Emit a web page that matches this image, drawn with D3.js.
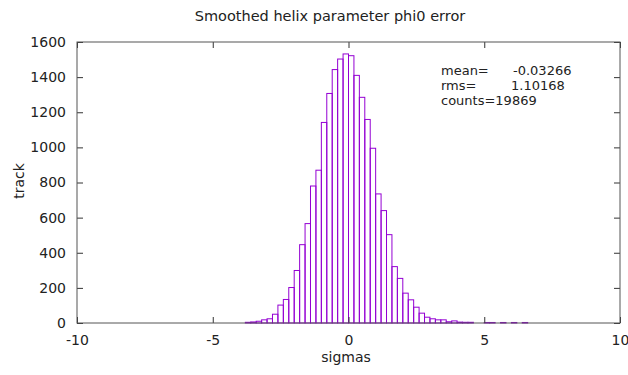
<!DOCTYPE html>
<html>
<head>
<meta charset="utf-8">
<script src="https://cdn.jsdelivr.net/npm/d3@7"></script>
<style>
  body { margin: 0; background: #fff; }
  svg text { font-family: "DejaVu Sans", Verdana, sans-serif; fill: #222; }
</style>
</head>
<body>
<svg id="chart" width="628" height="375"></svg>
<script>
// histogram of phi0 pull, bins of 0.2 sigma starting at -3.8
var binStart = -3.8;
var binWidth = 0.2;
var counts = [4, 6, 10, 18, 24, 50, 102, 134, 202, 299,
    446, 566, 780, 870, 1142, 1307, 1443, 1503, 1532, 1522,
    1410, 1285, 1159, 995, 735, 640, 503, 321, 254, 170,
    132, 90, 56, 33, 24, 18, 18, 7, 12, 5,
    4, 4, 0, 0, 3, 3, 0, 3, 0, 3,
    0, 3];

var xTicks = [-10, -5, 0, 5, 10];
var yTicks = [0, 200, 400, 600, 800, 1000, 1200, 1400, 1600];

var statLabels = ["mean=", "rms=", "counts="];
var statValues = ["-0.03266", "1.10168", "19869"];

var svg = d3.select("#chart");
var margin = {top: 42, right: 8, bottom: 52, left: 77};
var width = +svg.attr("width") - margin.left - margin.right;
var height = +svg.attr("height") - margin.top - margin.bottom;
var g = svg.append("g").attr("transform", "translate(" + margin.left + "," + margin.top + ")");

var x = d3.scaleLinear().domain([-10, 10]).range([0, width]);
var y = d3.scaleLinear().domain([0, 1600]).range([height, 0]);

var data = counts.map(function (c, i) {
    return {x0: binStart + i * binWidth, x1: binStart + (i + 1) * binWidth, n: c};
}).filter(function (d) {
    return d.n > 0;
});

// boxes
g.selectAll(".box")
    .data(data)
    .enter().append("rect")
    .attr("class", "box")
    .attr("x", function (d) { return x(d.x0); })
    .attr("y", function (d) { return y(d.n); })
    .attr("width", function (d) { return x(d.x1) - x(d.x0); })
    .attr("height", function (d) { return height - y(d.n); })
    .attr("fill", "none")
    .attr("stroke", "#9400d3")
    .attr("stroke-width", 1);

// axes, ticks pointing inward, mirrored
var plain = function (d) { return String(d); };
var tickCol = "#333";
var xb = g.append("g").attr("transform", "translate(0," + height + ")")
    .call(d3.axisBottom(x).tickValues(xTicks).tickSizeInner(-6).tickSizeOuter(0).tickPadding(12).tickFormat(plain));
var xt = g.append("g")
    .call(d3.axisTop(x).tickValues(xTicks).tickSizeInner(-6).tickSizeOuter(0).tickFormat(""));
var yl = g.append("g")
    .call(d3.axisLeft(y).tickValues(yTicks).tickSizeInner(-6).tickSizeOuter(0).tickPadding(11).tickFormat(plain));
var yr = g.append("g").attr("transform", "translate(" + width + ",0)")
    .call(d3.axisRight(y).tickValues(yTicks).tickSizeInner(-6).tickSizeOuter(0).tickFormat(""));

[xb, xt, yl, yr].forEach(function (a) {
    a.select(".domain").remove();
    a.selectAll(".tick line").attr("stroke", tickCol);
    a.selectAll("text").style("font-size", "14px").attr("fill", "#222");
});

g.append("rect")
    .attr("x", 0).attr("y", 0)
    .attr("width", width).attr("height", height)
    .attr("fill", "none")
    .attr("stroke", "#555")
    .attr("stroke-width", 1);

// stats box
var st = g.append("g").attr("transform", "translate(" + (441 - margin.left) + "," + (75 - margin.top) + ")");
statLabels.forEach(function (lab, i) {
    var t = st.append("text").attr("y", i * 15.2).style("font-size", "13px");
    t.append("tspan").text(lab);
    if (i < 2) {
        t.append("tspan").attr("x", i == 0 ? 72 : 70).text(statValues[i]);
    } else {
        t.append("tspan").text(statValues[i]);
    }
});

// labels
svg.append("text")
    .attr("x", 330).attr("y", 21)
    .attr("text-anchor", "middle")
    .style("font-size", "14.5px")
    .text("Smoothed helix parameter phi0 error");

svg.append("text")
    .attr("x", 346).attr("y", 362)
    .attr("text-anchor", "middle")
    .style("font-size", "14px")
    .text("sigmas");

svg.append("text")
    .attr("transform", "translate(24,181) rotate(-90)")
    .attr("text-anchor", "middle")
    .style("font-size", "14px")
    .text("track");
</script>
</body>
</html>
